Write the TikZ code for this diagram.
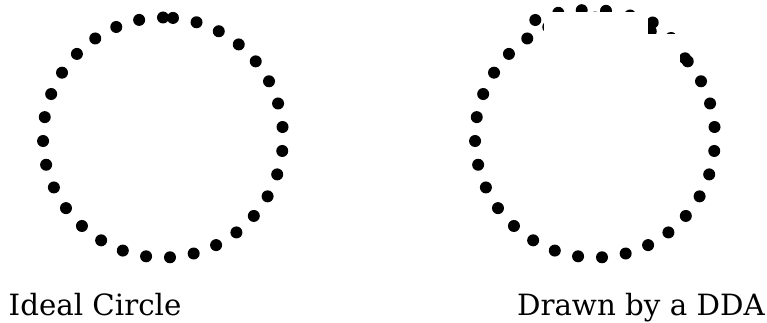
\documentclass[tikz,border=0pt]{standalone}
\usepackage{fontspec}
\setmainfont{DejaVu Serif}
\usepackage{tikz}

\begin{document}
\begin{tikzpicture}[x=1pt, y=1pt,
  pixel/.style={fill=black},
  mask/.style={fill=white, draw=none},
  caption/.style={inner sep=0pt, font=\fontsize{29.3}{35}\selectfont}]
\useasboundingbox (0,0) rectangle (767,322);
% ideal circle
\foreach \k in {0,...,31}
  \fill[pixel] ([shift={(163,184.5)}] {90+11.459*\k}:120) circle (6pt);
% circle drawn by a DDA
\foreach \k in {0,...,31}
  \fill[pixel] ([shift={(595,184.5)}] {90+11.459*\k}:120) circle (6pt);
\foreach \p in {(535.3,302),(558.3,309.2),(581.7,311.8),(606,311.2),
                (630,306.5),(652.7,299.5),(671,284),(685,263.7)}
  \fill[pixel] \p circle (6pt);
\fill[mask] (544,262) rectangle (648,309.5);
\fill[mask] (648,247) rectangle (680,288);
\node[caption, anchor=base west] (ideal) at (8.5,6.7) {Ideal Circle};
\node[caption, anchor=base east] (dda) at (765,6.7) {Drawn by a DDA};
\end{tikzpicture}
\end{document}
